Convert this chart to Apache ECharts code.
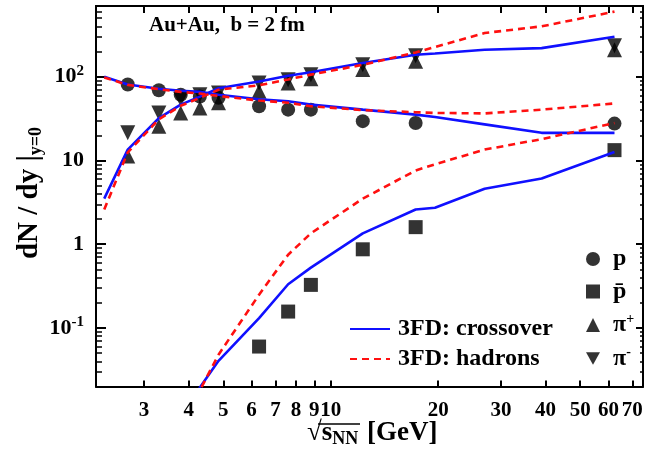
<!DOCTYPE html>
<html><head><meta charset="utf-8">
<script src="https://cdn.jsdelivr.net/npm/echarts@6/dist/echarts.min.js"></script>
<style>html,body{margin:0;padding:0;background:#fff}#c{width:648px;height:460px}</style>
</head><body><div id="c"></div>
<script>
// model energies (sqrt s_NN, GeV)
const modelEnergies = [2.32, 2.7, 3.3, 3.8, 4.3, 4.85, 6.3, 7.6, 8.8, 12.3, 17.3, 19.6, 27, 39, 62.4];
const crossoverP    = [100, 81, 72, 68, 66, 61, 54, 51, 46.5, 40.5, 35.3, 33, 27, 21.4, 21.4];
const hadronsP      = [98, 80, 71, 66, 63, 59, 52, 49, 44.5, 40, 37.7, 37, 36.5, 40.5, 48];
const crossoverPi   = [3.5, 13.5, 32, 46.5, 58, 73, 88, 103, 113, 146, 183, 190, 210, 220, 300];
const hadronsPi     = [2.6, 12.5, 31, 45, 56, 70, 79, 93, 106, 139, 195, 227, 333, 400, 600];
const crossoverPbar = [null, null, null, 0.007, 0.0195, 0.0405, 0.131, 0.333, 0.526, 1.35, 2.6, 2.73, 4.6, 6.1, 12.6];
const hadronsPbar   = [null, null, null, 0.006, 0.018, 0.048, 0.25, 0.75, 1.35, 3.5, 7.6, 9, 13.5, 18, 28];

// experimental energies
const expEnergies = [2.7, 3.3, 3.8, 4.3, 4.85, 6.3, 7.6, 8.8, 12.3, 17.3, 62.4];
const dataP       = [81, 69, 61, 58, 56, 44.5, 40.5, 40.5, 29.5, 28, 27.6];
const dataPbar    = [null, null, null, null, null, 0.060, 0.157, 0.327, 0.87, 1.6, 13.3];
const dataPiPlus  = [11.3, 25.6, 37, 42.5, 49, 67, 84, 95, 122, 153, 210];
const dataPiMinus = [21.4, 37, 54, 61, 64, 84, 92, 106, 139, 178, 235];

// ticks
const xTicks = [3, 4, 5, 6, 7, 8, 9, 10, 20, 30, 40, 50, 60, 70];
const yMajorTicks = [0.1, 1, 10, 100];
const yMinorTicks = [0.03,0.04,0.05,0.06,0.07,0.08,0.09, 0.2,0.3,0.4,0.5,0.6,0.7,0.8,0.9, 2,3,4,5,6,7,8,9, 20,30,40,50,60,70,80,90, 200,300,400,500,600];

const FONT = '"Liberation Serif", "Times New Roman", serif';
function zip(xs, ys) { return xs.map((x, i) => [x, ys[i]]).filter(p => p[1] != null); }

const chart = echarts.init(document.getElementById('c'), null, {renderer: 'canvas'});
const BLUE = '#1010ff', RED = '#ff1010';
const axisLine = {show: true, lineStyle: {color: '#000', width: 2}};

function xAx(pos, len, labels) {
  return {
    type: 'log', logBase: 10, min: 2.2, max: 75, position: pos,
    axisLine: axisLine,
    axisTick: {show: true, inside: true, length: len, lineStyle: {color: '#000', width: 2}, customValues: xTicks},
    axisLabel: labels ? {show: true, customValues: xTicks, margin: 14, fontFamily: FONT, fontWeight: 'bold', fontSize: 21, color: '#000'} : {show: false},
    splitLine: {show: false}, minorTick: {show: false}
  };
}
function yAx(pos, len, width, vals, labels) {
  return {
    type: 'log', logBase: 10, min: 0.02, max: 700, position: pos,
    axisLine: axisLine,
    axisTick: {show: true, inside: true, length: len, lineStyle: {color: '#000', width: width}, customValues: vals},
    axisLabel: labels ? {
      show: true, customValues: yMajorTicks, margin: 12, fontFamily: FONT, fontWeight: 'bold', fontSize: 22, color: '#000',
      formatter: function (v) {
        const e = Math.round(Math.log10(v));
        if (e === 0) return '1';
        if (e === 1) return '10';
        return '10{sup|' + (e < 0 ? '-' : '') + Math.abs(e) + '}';
      },
      rich: {sup: {fontFamily: FONT, fontWeight: 'bold', fontSize: 15, verticalAlign: 'top', padding: [0, 0, 12, 0], color: '#000'}}
    } : {show: false},
    splitLine: {show: false}, minorTick: {show: false}
  };
}

function lineSeries(name, data, color, dashed) {
  return {
    name: name, type: 'line', xAxisIndex: 0, yAxisIndex: 0, data: data, symbol: 'none', z: 5,
    lineStyle: {color: color, width: 2.6, type: dashed ? [7, 5] : 'solid'}, itemStyle: {color: color},
    clip: true, connectNulls: false, silent: true
  };
}
const DOWN_TRI = 'path://M0,0 L10,0 L5,9 Z';
function scat(name, data, symbol, size) {
  return {
    name: name, type: 'scatter', xAxisIndex: 0, yAxisIndex: 0, data: data, symbol: symbol, symbolSize: size,
    itemStyle: {color: '#000'}, z: 3, silent: true
  };
}

const option = {
  backgroundColor: '#fff',
  animation: false,
  grid: {left: 96, top: 6, width: 547, height: 380.5, containLabel: false},
  xAxis: [xAx('bottom', 6, true), xAx('top', 7, false)],
  yAxis: [
    yAx('left', 10, 2, yMajorTicks, true),
    yAx('left', 6, 1.5, yMinorTicks, false),
    yAx('right', 7, 2, yMajorTicks, false),
    yAx('right', 3, 1.5, yMinorTicks, false)
  ],
  legend: [
    {
      data: ['3FD: crossover', '3FD: hadrons'], orient: 'vertical', left: 349, top: 317, padding: 0,
      itemWidth: 40, itemHeight: 14, itemGap: 6, selectedMode: false, itemStyle: {opacity: 0},
      textStyle: {fontFamily: FONT, fontWeight: 'bold', fontSize: 24, color: '#000', padding: [0, 0, 0, 3]}
    },
    {
      data: ['p', 'pbar', 'piplus', 'piminus'], orient: 'vertical', left: 586, top: 247, padding: 0,
      itemWidth: 14, itemHeight: 14, itemGap: 8.5, selectedMode: false,
      formatter: function (n) {
        return {p: 'p', pbar: 'p\u0304', piplus: '\u03c0{sup|+}', piminus: '\u03c0{sup|-}'}[n];
      },
      textStyle: {fontFamily: FONT, fontWeight: 'bold', fontSize: 24, color: '#000', padding: [0, 0, 0, 8],
        rich: {sup: {fontFamily: FONT, fontWeight: 'bold', fontSize: 14, verticalAlign: 'top', padding: [0, 0, 12, 0], color: '#000'}}}
    }
  ],
  series: [
    lineSeries('3FD: crossover', zip(modelEnergies, crossoverP), BLUE, false),
    lineSeries('3FD: crossover', zip(modelEnergies, crossoverPi), BLUE, false),
    lineSeries('3FD: crossover', zip(modelEnergies, crossoverPbar), BLUE, false),
    lineSeries('3FD: hadrons', zip(modelEnergies, hadronsP), RED, true),
    lineSeries('3FD: hadrons', zip(modelEnergies, hadronsPi), RED, true),
    lineSeries('3FD: hadrons', zip(modelEnergies, hadronsPbar), RED, true),
    scat('p', zip(expEnergies, dataP), 'circle', 14),
    scat('pbar', zip(expEnergies, dataPbar), 'rect', 14),
    scat('piplus', zip(expEnergies, dataPiPlus), 'triangle', 15),
    scat('piminus', zip(expEnergies, dataPiMinus), DOWN_TRI, 15)
  ],
  graphic: [
    {type: 'text', left: 149, top: 15, style: {text: 'Au+Au,  b = 2 fm', font: 'bold 21px ' + FONT, fill: '#000'}},
    {type: 'text', x: 30, y: 193, rotation: Math.PI / 2,
      style: {text: 'dN / dy |{sub|y=0}', font: 'bold 29px ' + FONT, fill: '#000', align: 'center', verticalAlign: 'middle',
        rich: {sub: {font: 'bold 18px ' + FONT, fill: '#000', padding: [12, 0, 0, 0], verticalAlign: 'bottom'}}}},
    {type: 'text', left: 307, top: 420,
      style: {text: '\u221a{s|s}{sub|NN}', font: 'bold 27px ' + FONT, fill: '#000',
        rich: {s: {font: 'bold 27px ' + FONT, fill: '#000'}, sub: {font: 'bold 18px ' + FONT, fill: '#000', padding: [12, 0, 0, 0], verticalAlign: 'bottom'}}}},
    {type: 'text', left: 367, top: 420, style: {text: '[GeV]', font: 'bold 27px ' + FONT, fill: '#000'}},
    {type: 'line', shape: {x1: 318, y1: 424, x2: 360, y2: 424}, style: {stroke: '#000', lineWidth: 1.5}}
  ]
};
chart.setOption(option);
</script></body></html>
